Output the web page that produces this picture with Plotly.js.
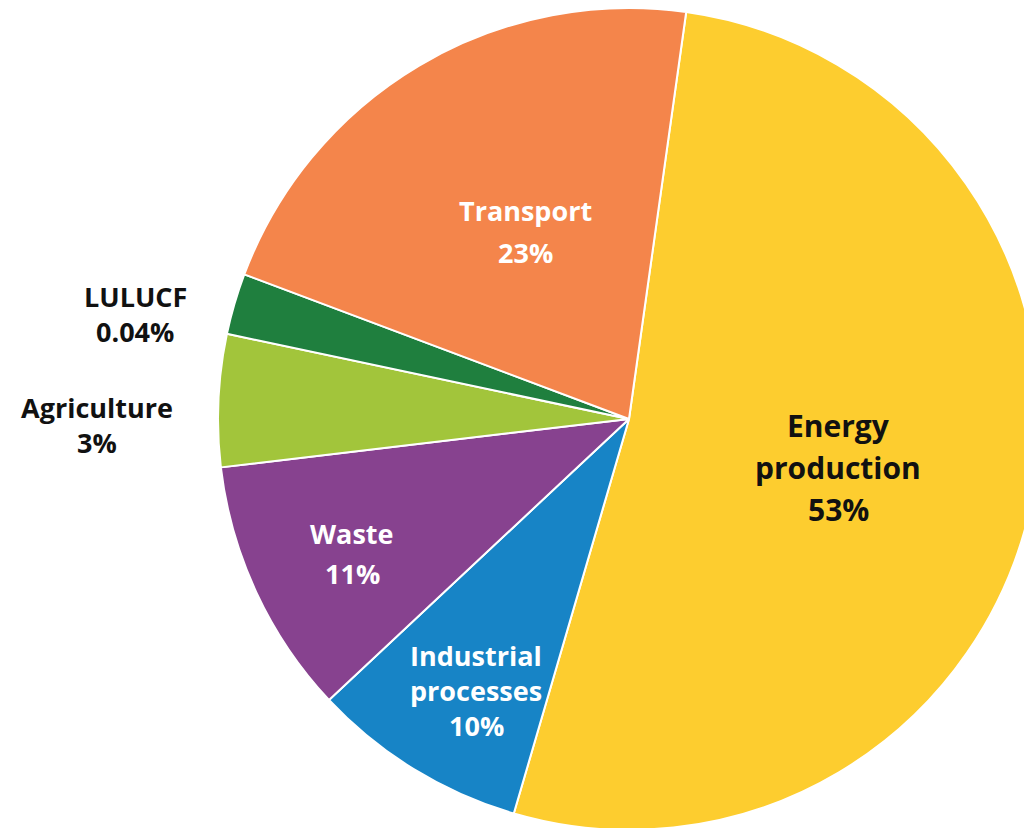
<!DOCTYPE html>
<html>
<head>
<meta charset="utf-8">
<script src="https://cdn.plot.ly/plotly-3.0.1.min.js"></script>
<style>
html,body{margin:0;padding:0;overflow:hidden;background:#fff;}
#chart{width:1100px;height:838px;}
</style>
</head>
<body>
<div id="chart"></div>
<script>
// Sector names, slice sizes as drawn (share of circle, %), and printed labels
var sectors = ["Energy production", "Industrial processes", "Waste", "Agriculture", "LULUCF", "Transport"];
var sliceValues = [52.3, 8.5, 10.1, 5.2, 2.4, 21.5];
var labelLines = [
  ["Energy", "production", "53%"],
  ["Industrial", "processes", "10%"],
  ["Waste", "11%"],
  ["Agriculture", "3%"],
  ["LULUCF", "0.04%"],
  ["Transport", "23%"]
];
var sliceColors = ["#FDCD2F", "#1784C6", "#87428F", "#A2C53B", "#1F7F3E", "#F4854B"];

// label placement (pixels in page), font styling
var labelPos = [[838, 425, 42, 30, "#111"], [476, 655, 35, 27, "#fff"], [352, 533, 40, 27, "#fff"],
                [97, 407, 35, 27, "#111"], [135, 296, 35, 27, "#111"], [525, 210, 42, 27, "#fff"]];

var W = 1100, H = 840, ML = 218, MT = 8, MB = 10, PW = 822;
var MR = W - ML - PW;
function px2x(px){ return (px - ML) / PW; }
function py2y(py){ return 1 - (py - MT) / (H - MT - MB); }

var annotations = [];
labelLines.forEach(function(lines, i){
  var p = labelPos[i];
  lines.forEach(function(t, j){
    annotations.push({
      x: px2x(p[0]), y: py2y(p[1] + j * p[2]), xref: "paper", yref: "paper",
      text: "<b>" + t + "</b>", showarrow: false, xanchor: "center", yanchor: "middle",
      font: {family: "Open Sans, Lato, sans-serif", size: p[3], color: p[4]}
    });
  });
});

var trace = {
  type: "pie",
  labels: sectors,
  values: sliceValues,
  sort: false,
  direction: "clockwise",
  rotation: 8,
  textinfo: "none",
  hoverinfo: "label",
  marker: {colors: sliceColors, line: {color: "#ffffff", width: 2}},
  showlegend: false
};

Plotly.newPlot("chart", [trace], {
  width: W, height: H,
  margin: {l: ML, r: MR, t: MT, b: MB},
  paper_bgcolor: "#fff",
  showlegend: false,
  annotations: annotations
}, {displayModeBar: false, staticPlot: true});
</script>
</body>
</html>
